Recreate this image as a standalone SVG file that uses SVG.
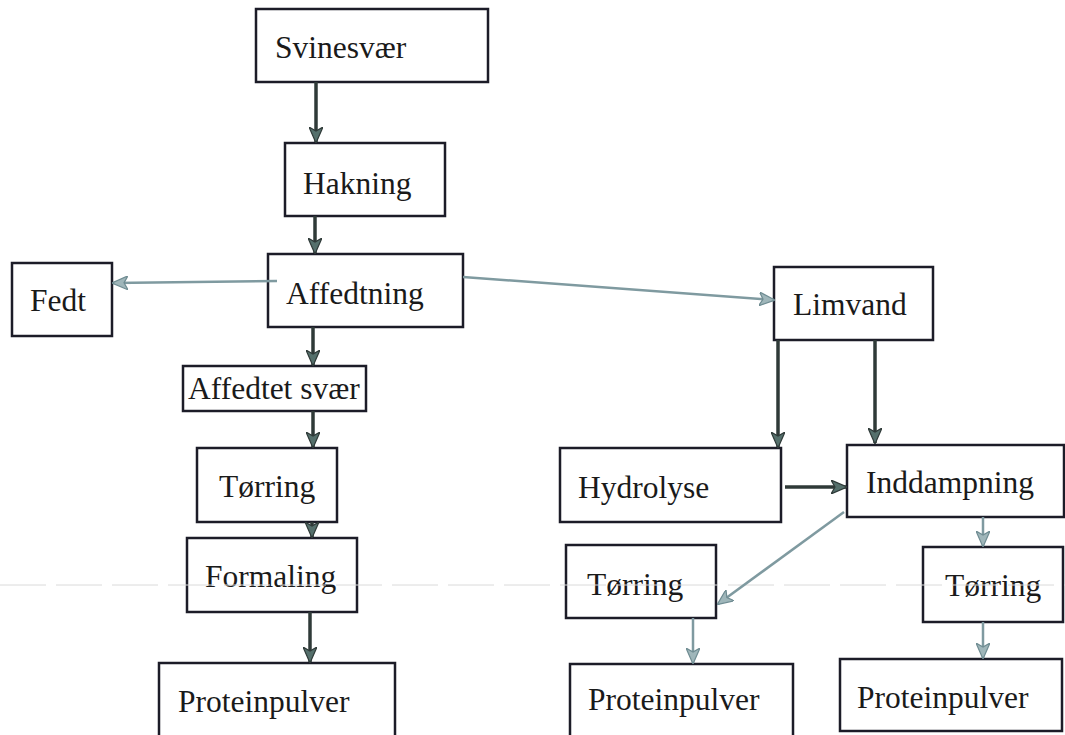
<svg xmlns="http://www.w3.org/2000/svg" width="1065" height="735" viewBox="0 0 1065 735">
<style>
.box{fill:#fff;stroke:#1c1c28;stroke-width:2.5}
.lbl{font-family:"Liberation Serif","Times New Roman",serif;font-size:31.5px;fill:#1a1a1a}
.dk{fill:none;stroke:#2f3a38;stroke-width:3.5}
.lt{fill:none;stroke:#7f9aa0;stroke-width:2.5}
.scan{stroke:#dadada;stroke-width:1;stroke-dasharray:46 10}
</style>
<defs>
<marker id="ahD" viewBox="0 0 16 14" refX="15" refY="7" markerWidth="16" markerHeight="14" markerUnits="userSpaceOnUse" orient="auto">
<path d="M0,0 L16,7 L0,14 L4,7 z" fill="#55706c" stroke="#2f3a38" stroke-width="1.2"/>
</marker>
<marker id="ahL" viewBox="0 0 16 14" refX="15" refY="7" markerWidth="16" markerHeight="14" markerUnits="userSpaceOnUse" orient="auto">
<path d="M0,0 L16,7 L0,14 L4,7 z" fill="#9fb6ba" stroke="#6f8c92" stroke-width="1.2"/>
</marker>
</defs>
<rect width="1065" height="735" fill="#fff"/>
<g id="nodes">
<g id="svinesvaer"><rect class="box" x="256" y="9" width="232" height="73"/><text class="lbl" x="275" y="58">Svinesvær</text></g>
<g id="hakning"><rect class="box" x="285" y="143" width="160" height="73"/><text class="lbl" x="303" y="194">Hakning</text></g>
<g id="affedtning"><rect class="box" x="268" y="254" width="195" height="73"/><text class="lbl" x="286" y="304">Affedtning</text></g>
<g id="fedt"><rect class="box" x="12" y="263" width="100" height="73"/><text class="lbl" x="30" y="311">Fedt</text></g>
<g id="limvand"><rect class="box" x="774" y="267" width="159" height="73"/><text class="lbl" x="793" y="315">Limvand</text></g>
<g id="affedtet-svaer"><rect class="box" x="183" y="366" width="183" height="45"/><text class="lbl" x="188" y="399">Affedtet svær</text></g>
<g id="torring-1"><rect class="box" x="197" y="448" width="140" height="74"/><text class="lbl" x="219" y="497">Tørring</text></g>
<g id="formaling"><rect class="box" x="187" y="538" width="170" height="74"/><text class="lbl" x="205" y="587">Formaling</text></g>
<g id="proteinpulver-1"><rect class="box" x="159" y="663" width="236" height="80"/><text class="lbl" x="178" y="712">Proteinpulver</text></g>
<g id="hydrolyse"><rect class="box" x="560" y="448" width="221" height="74"/><text class="lbl" x="578" y="498">Hydrolyse</text></g>
<g id="inddampning"><rect class="box" x="847" y="445" width="217" height="72"/><text class="lbl" x="866" y="493">Inddampning</text></g>
<g id="torring-2"><rect class="box" x="566" y="545" width="150" height="73"/><text class="lbl" x="587" y="595">Tørring</text></g>
<g id="torring-3"><rect class="box" x="923" y="547" width="140" height="75"/><text class="lbl" x="945" y="596">Tørring</text></g>
<g id="proteinpulver-2"><rect class="box" x="570" y="664" width="223" height="80"/><text class="lbl" x="588" y="710">Proteinpulver</text></g>
<g id="proteinpulver-3"><rect class="box" x="840" y="659" width="222" height="72"/><text class="lbl" x="857" y="708">Proteinpulver</text></g>
</g>
<line class="scan" x1="0" y1="585" x2="1065" y2="585"/>
<g id="connectors">
<path class="dk" d="M316,82 L316,142" marker-end="url(#ahD)"/>
<path class="dk" d="M315,216 L315,253" marker-end="url(#ahD)"/>
<path class="lt" d="M277,281 L113,283" marker-end="url(#ahL)"/>
<path class="lt" d="M463,277 L774,300" marker-end="url(#ahL)"/>
<path class="dk" d="M313,327 L313,365" marker-end="url(#ahD)"/>
<path class="dk" d="M313,411 L313,447" marker-end="url(#ahD)"/>
<path class="dk" d="M312,522 L312,537" marker-end="url(#ahD)"/>
<path class="dk" d="M310,612 L310,662" marker-end="url(#ahD)"/>
<path class="dk" d="M778,340 L778,447" marker-end="url(#ahD)"/>
<path class="dk" d="M875,340 L875,443" marker-end="url(#ahD)"/>
<path class="dk" d="M785,487 L846,487" marker-end="url(#ahD)"/>
<path class="lt" d="M844,512 L718,604" marker-end="url(#ahL)"/>
<path class="lt" d="M983,517 L983,546" marker-end="url(#ahL)"/>
<path class="lt" d="M693,618 L693,663" marker-end="url(#ahL)"/>
<path class="lt" d="M983,622 L983,658" marker-end="url(#ahL)"/>
</g>
</svg>
